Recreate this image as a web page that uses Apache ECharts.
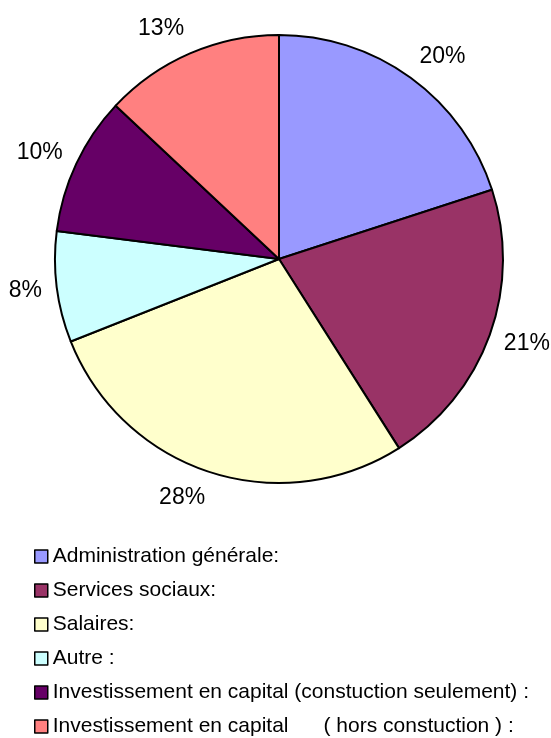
<!DOCTYPE html>
<html>
<head>
<meta charset="utf-8">
<script src="https://cdn.jsdelivr.net/npm/echarts@6/dist/echarts.min.js"></script>
<style>
  html, body { margin: 0; padding: 0; background: #fff; }
  #chart { width: 551px; height: 738px; }
</style>
</head>
<body>
<div id="chart"></div>
<script>
// Budget breakdown (percent of total)
const categories = [
  'Administration générale:',
  'Services sociaux:',
  'Salaires:',
  'Autre :',
  'Investissement en capital (constuction seulement) :',
  'Investissement en capital      ( hors constuction ) :'
];
const shares = [20, 21, 28, 8, 10, 13];
const sliceColors = ['#9999FF', '#993366', '#FFFFCC', '#CCFFFF', '#660066', '#FF8080'];

const FONT = '"Liberation Sans", Arial, sans-serif';
const center = [279, 259];
const pieRadius = 224;
const labelGap = 15;

const chart = echarts.init(document.getElementById('chart'), null, { renderer: 'canvas' });

chart.setOption({
  animation: false,
  backgroundColor: '#ffffff',
  legend: {
    orient: 'vertical',
    left: 34,
    top: 546,
    height: 210,
    padding: 0,
    itemWidth: 13,
    itemHeight: 13,
    itemGap: 13,
    icon: 'rect',
    selectedMode: false,
    textStyle: { fontFamily: FONT, fontSize: 21, color: '#000', lineHeight: 21 },
    data: categories.map((name, i) => ({
      name: name,
      itemStyle: { color: sliceColors[i], borderColor: '#000', borderWidth: 1.5 }
    }))
  },
  series: [
    {
      type: 'pie',
      center: center,
      radius: [0, pieRadius],
      startAngle: 90,
      clockwise: true,
      silent: true,
      avoidLabelOverlap: false,
      itemStyle: { borderColor: '#000', borderWidth: 2 },
      label: {
        show: true,
        position: 'outside',
        formatter: '{c}%',
        fontFamily: FONT,
        fontSize: 23,
        color: '#000',
        distanceToLabelLine: 0
      },
      // leader lines are not drawn; they only set how far out the labels sit
      labelLine: { show: true, length: labelGap, length2: 0, lineStyle: { opacity: 0 } },
      // push each label outward vertically so its box edge, not its middle, meets the anchor
      labelLayout: function (params) {
        const r = params.labelRect;
        const midY = r.y + r.height / 2;
        const s = (midY - center[1]) / (pieRadius + labelGap);
        return { dy: s * r.height / 2 };
      },
      emphasis: { disabled: true },
      data: categories.map((name, i) => ({
        name: name,
        value: shares[i],
        itemStyle: { color: sliceColors[i] }
      }))
    }
  ]
});
</script>
</body>
</html>
